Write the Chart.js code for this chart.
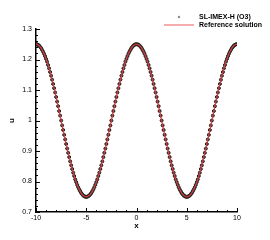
<!DOCTYPE html>
<html lang="en">
<head>
    <meta charset="UTF-8">
    <title>SL-IMEX-H (O3) vs reference</title>
    <style>
        html, body { margin: 0; padding: 0; background: #fff; }
        #wrap { width: 270px; height: 240px; }
    </style>
    <script src="https://cdn.jsdelivr.net/npm/chart.js"></script>
</head>
<body>
    <div id="wrap"><canvas id="graph" width="270" height="240"></canvas></div>

    <script>
        // x positions of the samples
        const xs = [
            -10, -9.9, -9.8, -9.7, -9.6, -9.5, -9.4, -9.3, -9.2, -9.1,
            -9, -8.9, -8.8, -8.7, -8.6, -8.5, -8.4, -8.3, -8.2, -8.1,
            -8, -7.9, -7.8, -7.7, -7.6, -7.5, -7.4, -7.3, -7.2, -7.1,
            -7, -6.9, -6.8, -6.7, -6.6, -6.5, -6.4, -6.3, -6.2, -6.1,
            -6, -5.9, -5.8, -5.7, -5.6, -5.5, -5.4, -5.3, -5.2, -5.1,
            -5, -4.9, -4.8, -4.7, -4.6, -4.5, -4.4, -4.3, -4.2, -4.1,
            -4, -3.9, -3.8, -3.7, -3.6, -3.5, -3.4, -3.3, -3.2, -3.1,
            -3, -2.9, -2.8, -2.7, -2.6, -2.5, -2.4, -2.3, -2.2, -2.1,
            -2, -1.9, -1.8, -1.7, -1.6, -1.5, -1.4, -1.3, -1.2, -1.1,
            -1, -0.9, -0.8, -0.7, -0.6, -0.5, -0.4, -0.3, -0.2, -0.1,
            0, 0.1, 0.2, 0.3, 0.4, 0.5, 0.6, 0.7, 0.8, 0.9,
            1, 1.1, 1.2, 1.3, 1.4, 1.5, 1.6, 1.7, 1.8, 1.9,
            2, 2.1, 2.2, 2.3, 2.4, 2.5, 2.6, 2.7, 2.8, 2.9,
            3, 3.1, 3.2, 3.3, 3.4, 3.5, 3.6, 3.7, 3.8, 3.9,
            4, 4.1, 4.2, 4.3, 4.4, 4.5, 4.6, 4.7, 4.8, 4.9,
            5, 5.1, 5.2, 5.3, 5.4, 5.5, 5.6, 5.7, 5.8, 5.9,
            6, 6.1, 6.2, 6.3, 6.4, 6.5, 6.6, 6.7, 6.8, 6.9,
            7, 7.1, 7.2, 7.3, 7.4, 7.5, 7.6, 7.7, 7.8, 7.9,
            8, 8.1, 8.2, 8.3, 8.4, 8.5, 8.6, 8.7, 8.8, 8.9,
            9, 9.1, 9.2, 9.3, 9.4, 9.5, 9.6, 9.7, 9.8, 9.9,
            10
        ];

        // u values (numerical and reference coincide)
        const uValues = [
            1.250, 1.250, 1.248, 1.246, 1.242, 1.238, 1.232, 1.226, 1.219, 1.211,
            1.202, 1.193, 1.182, 1.171, 1.159, 1.147, 1.134, 1.120, 1.106, 1.092,
            1.077, 1.062, 1.047, 1.031, 1.016, 1.000, 0.984, 0.969, 0.953, 0.938,
            0.923, 0.908, 0.894, 0.880, 0.866, 0.853, 0.841, 0.829, 0.818, 0.807,
            0.798, 0.789, 0.781, 0.774, 0.768, 0.762, 0.758, 0.754, 0.752, 0.750,
            0.750, 0.750, 0.752, 0.754, 0.758, 0.762, 0.768, 0.774, 0.781, 0.789,
            0.798, 0.807, 0.818, 0.829, 0.841, 0.853, 0.866, 0.880, 0.894, 0.908,
            0.923, 0.938, 0.953, 0.969, 0.984, 1.000, 1.016, 1.031, 1.047, 1.062,
            1.077, 1.092, 1.106, 1.120, 1.134, 1.147, 1.159, 1.171, 1.182, 1.193,
            1.202, 1.211, 1.219, 1.226, 1.232, 1.238, 1.242, 1.246, 1.248, 1.250,
            1.250, 1.250, 1.248, 1.246, 1.242, 1.238, 1.232, 1.226, 1.219, 1.211,
            1.202, 1.193, 1.182, 1.171, 1.159, 1.147, 1.134, 1.120, 1.106, 1.092,
            1.077, 1.062, 1.047, 1.031, 1.016, 1.000, 0.984, 0.969, 0.953, 0.938,
            0.923, 0.908, 0.894, 0.880, 0.866, 0.853, 0.841, 0.829, 0.818, 0.807,
            0.798, 0.789, 0.781, 0.774, 0.768, 0.762, 0.758, 0.754, 0.752, 0.750,
            0.750, 0.750, 0.752, 0.754, 0.758, 0.762, 0.768, 0.774, 0.781, 0.789,
            0.798, 0.807, 0.818, 0.829, 0.841, 0.853, 0.866, 0.880, 0.894, 0.908,
            0.923, 0.938, 0.953, 0.969, 0.984, 1.000, 1.016, 1.031, 1.047, 1.062,
            1.077, 1.092, 1.106, 1.120, 1.134, 1.147, 1.159, 1.171, 1.182, 1.193,
            1.202, 1.211, 1.219, 1.226, 1.232, 1.238, 1.242, 1.246, 1.248, 1.250,
            1.250
        ];

        const seriesLabels = ['SL-IMEX-H (O3)', 'Reference solution'];
        const xTickValues = [-10, -5, 0, 5, 10];
        const yTickValues = [0.7, 0.8, 0.9, 1, 1.1, 1.2, 1.3];

        const points = xs.map((x, i) => ({ x: x, y: uValues[i] }));

        const FONT = "'Liberation Sans', Arial, sans-serif";
        const MARKER_FILL = '#4a4a4a';
        const MARKER_EDGE = '#1e1e1e';
        const REF_RED = '#e23a3a';

        // tecplot-like inward ticks on the left and bottom axes
        const innerTicks = {
            id: 'innerTicks',
            afterDraw(chart) {
                const ctx = chart.ctx;
                const sx = chart.scales.x, sy = chart.scales.y;
                const a = chart.chartArea;
                ctx.save();
                ctx.strokeStyle = '#000';
                ctx.lineWidth = 1;
                for (let i = -10; i <= 10; i++) {
                    const px = Math.round(sx.getPixelForValue(i)) + 0.5;
                    const len = (i % 5 === 0) ? 4 : 2;
                    ctx.beginPath();
                    ctx.moveTo(px, a.bottom);
                    ctx.lineTo(px, a.bottom - len);
                    ctx.stroke();
                }
                for (let k = 0; k <= 30; k++) {
                    const py = Math.round(sy.getPixelForValue(0.7 + k * 0.02)) + 0.5;
                    const len = (k % 5 === 0) ? 4 : 2;
                    ctx.beginPath();
                    ctx.moveTo(a.left, py);
                    ctx.lineTo(a.left + len, py);
                    ctx.stroke();
                }
                ctx.restore();
            }
        };

        // legend in the top right corner, above the plot
        const cornerLegend = {
            id: 'cornerLegend',
            afterDraw(chart) {
                const ctx = chart.ctx;
                const ds = chart.data.datasets;
                ctx.save();
                ctx.font = 'bold 7px ' + FONT;
                ctx.textBaseline = 'middle';
                ctx.textAlign = 'left';
                // marker entry
                ctx.beginPath();
                ctx.arc(179, 17, 1.2, 0, Math.PI * 2);
                ctx.fillStyle = '#8a8a8a';
                ctx.fill();
                ctx.fillStyle = '#000';
                ctx.fillText(ds[0].label, 199, 17);
                // line entry
                ctx.strokeStyle = '#f09090';
                ctx.lineWidth = 1.5;
                ctx.beginPath();
                ctx.moveTo(164, 25);
                ctx.lineTo(194, 25);
                ctx.stroke();
                ctx.fillStyle = '#000';
                ctx.fillText(ds[1].label, 199, 25);
                ctx.restore();
            }
        };

        new Chart(document.getElementById('graph'), {
            type: 'scatter',
            data: {
                datasets: [
                    {
                        label: seriesLabels[0],
                        data: points,
                        pointRadius: 1.5,
                        pointBorderWidth: 1,
                        pointBorderColor: MARKER_EDGE,
                        pointBackgroundColor: MARKER_FILL,
                        borderColor: MARKER_EDGE,
                        backgroundColor: MARKER_FILL,
                        showLine: false,
                        order: 1
                    },
                    {
                        label: seriesLabels[1],
                        data: points,
                        showLine: true,
                        pointRadius: 0,
                        borderColor: REF_RED,
                        backgroundColor: REF_RED,
                        borderWidth: 1.1,
                        order: 0
                    }
                ]
            },
            options: {
                responsive: false,
                animation: false,
                layout: { padding: { top: 29, right: 33, left: 0, bottom: 0 } },
                plugins: {
                    legend: { display: false },
                    tooltip: { enabled: false }
                },
                scales: {
                    x: {
                        type: 'linear',
                        min: -10,
                        max: 10,
                        afterFit(scale) { scale.height = 28; },
                        afterBuildTicks(scale) { scale.ticks = xTickValues.map(v => ({ value: v })); },
                        grid: { display: false, drawTicks: false },
                        border: { display: true, color: '#000', width: 1.5 },
                        ticks: {
                            padding: 2,
                            color: '#000',
                            font: { family: FONT, size: 7 },
                            maxRotation: 0,
                            callback: v => String(v)
                        },
                        title: {
                            display: true,
                            text: 'x',
                            color: '#000',
                            font: { family: FONT, size: 8, weight: 'bold' },
                            padding: { top: 9, bottom: 9 }
                        }
                    },
                    y: {
                        type: 'linear',
                        min: 0.7,
                        max: 1.3,
                        afterFit(scale) { scale.width = 36; },
                        afterBuildTicks(scale) { scale.ticks = yTickValues.map(v => ({ value: v })); },
                        grid: { display: false, drawTicks: false },
                        border: { display: true, color: '#000', width: 1.5 },
                        ticks: {
                            padding: 4,
                            color: '#000',
                            font: { family: FONT, size: 7 },
                            callback: v => String(+v.toFixed(1))
                        },
                        title: {
                            display: true,
                            text: 'u',
                            color: '#000',
                            font: { family: FONT, size: 8, weight: 'bold' },
                            padding: { top: 7, bottom: 7 }
                        }
                    }
                }
            },
            plugins: [innerTicks, cornerLegend]
        });
    </script>
</body>
</html>
